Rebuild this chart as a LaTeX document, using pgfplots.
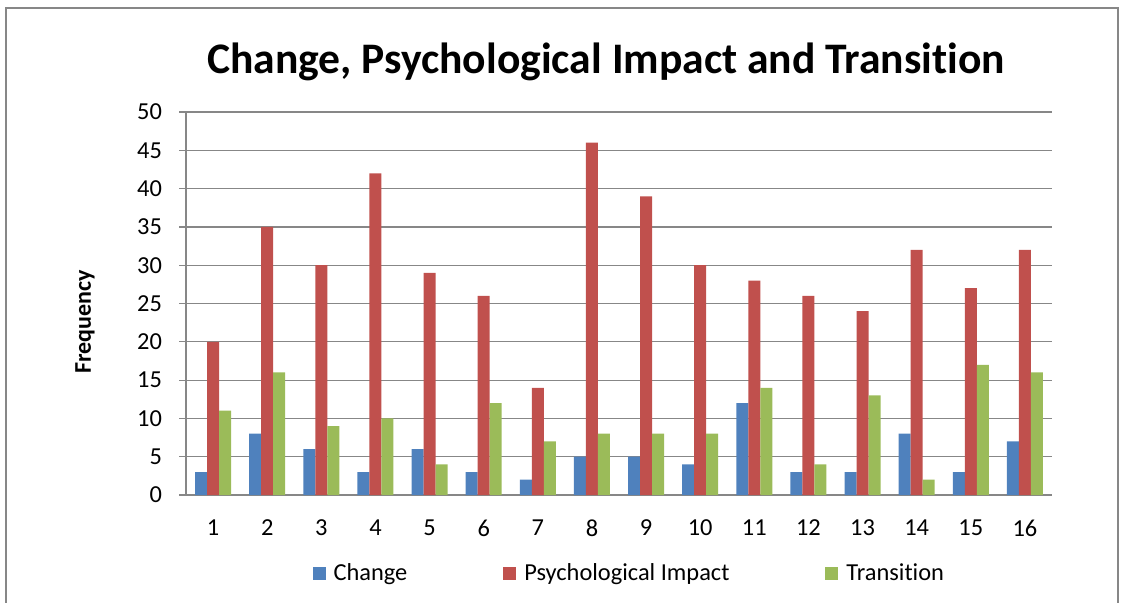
\documentclass[border=0pt]{standalone}
\usepackage{pgfplots}
\pgfplotsset{compat=1.18}
\usepackage{fontspec}
\setmainfont{Carlito}[Ligatures={NoCommon,NoContextual},Contextuals={NoAlternate}]
\definecolor{cblue}{HTML}{4F81BD}
\definecolor{cred}{HTML}{C0504D}
\definecolor{cgreen}{HTML}{9BBB59}
\definecolor{gridgray}{HTML}{878787}
\begin{document}
\begin{tikzpicture}
\useasboundingbox (0pt,0pt) rectangle (565pt,301pt);
% chart frame (bottom edge runs off the picture)
\draw[gridgray, line width=1pt] (3pt,-10pt) -- (3pt,297pt) -- (559pt,297pt) -- (559pt,-10pt);
\node[font=\bfseries\fontsize{21.8}{26}\selectfont] at (303pt,270pt) {Change, Psychological Impact and Transit\kern0pt ion};
\node[font=\bfseries\fontsize{12}{14}\selectfont, rotate=90] at (42.5pt,140pt) {Frequency};
\begin{axis}[
    at={(93pt,53.5pt)}, anchor=south west,
    scale only axis,
    width=433pt, height=191.5pt,
    ybar=0pt,
    bar width=0.222,
    xmin=0.5, xmax=16.5,
    ymin=0, ymax=50,
    xtick={1,...,16},
    minor xtick={0.5,1.5,...,16.5},
    ytick={0,5,...,50},
    ymajorgrids,
    grid style={gridgray, line width=0.6pt},
    axis x line*=bottom,
    axis y line*=left,
    axis line style={gridgray, line width=0.6pt, -},
    tick align=outside,
    xtick style={draw=none},
    minor x tick style={gridgray, line width=0.6pt},
    ytick style={gridgray, line width=0.6pt},
    major tick length=3.5pt,
    minor tick length=3.5pt,
    tick label style={font=\fontsize{12.2}{14}\selectfont, black},
    /pgf/number format/assume math mode=true,
    yticklabel style={xshift=-5pt},
    xticklabel style={yshift=-5.5pt},
    legend columns=3,
    legend style={at={(0.513,-0.204)}, anchor=center, draw=none,
        font=\fontsize{12.2}{14}\selectfont,
        /tikz/every odd column/.append style={column sep=2pt},
        /tikz/every even column/.append style={column sep=46pt}},
    legend image code/.code={\fill[#1] (0pt,-3.25pt) rectangle (6.5pt,3.25pt);},
]
\addplot[fill=cblue, draw=none] coordinates {
(1,3) (2,8) (3,6) (4,3) (5,6) (6,3) (7,2) (8,5)
(9,5) (10,4) (11,12) (12,3) (13,3) (14,8) (15,3) (16,7)};
\addplot[fill=cred, draw=none] coordinates {
(1,20) (2,35) (3,30) (4,42) (5,29) (6,26) (7,14) (8,46)
(9,39) (10,30) (11,28) (12,26) (13,24) (14,32) (15,27) (16,32)};
\addplot[fill=cgreen, draw=none] coordinates {
(1,11) (2,16) (3,9) (4,10) (5,4) (6,12) (7,7) (8,8)
(9,8) (10,8) (11,14) (12,4) (13,13) (14,2) (15,17) (16,16)};
\legend{Change, Psychological Impact, Transit\kern0pt ion}
\end{axis}
\end{tikzpicture}
\end{document}
